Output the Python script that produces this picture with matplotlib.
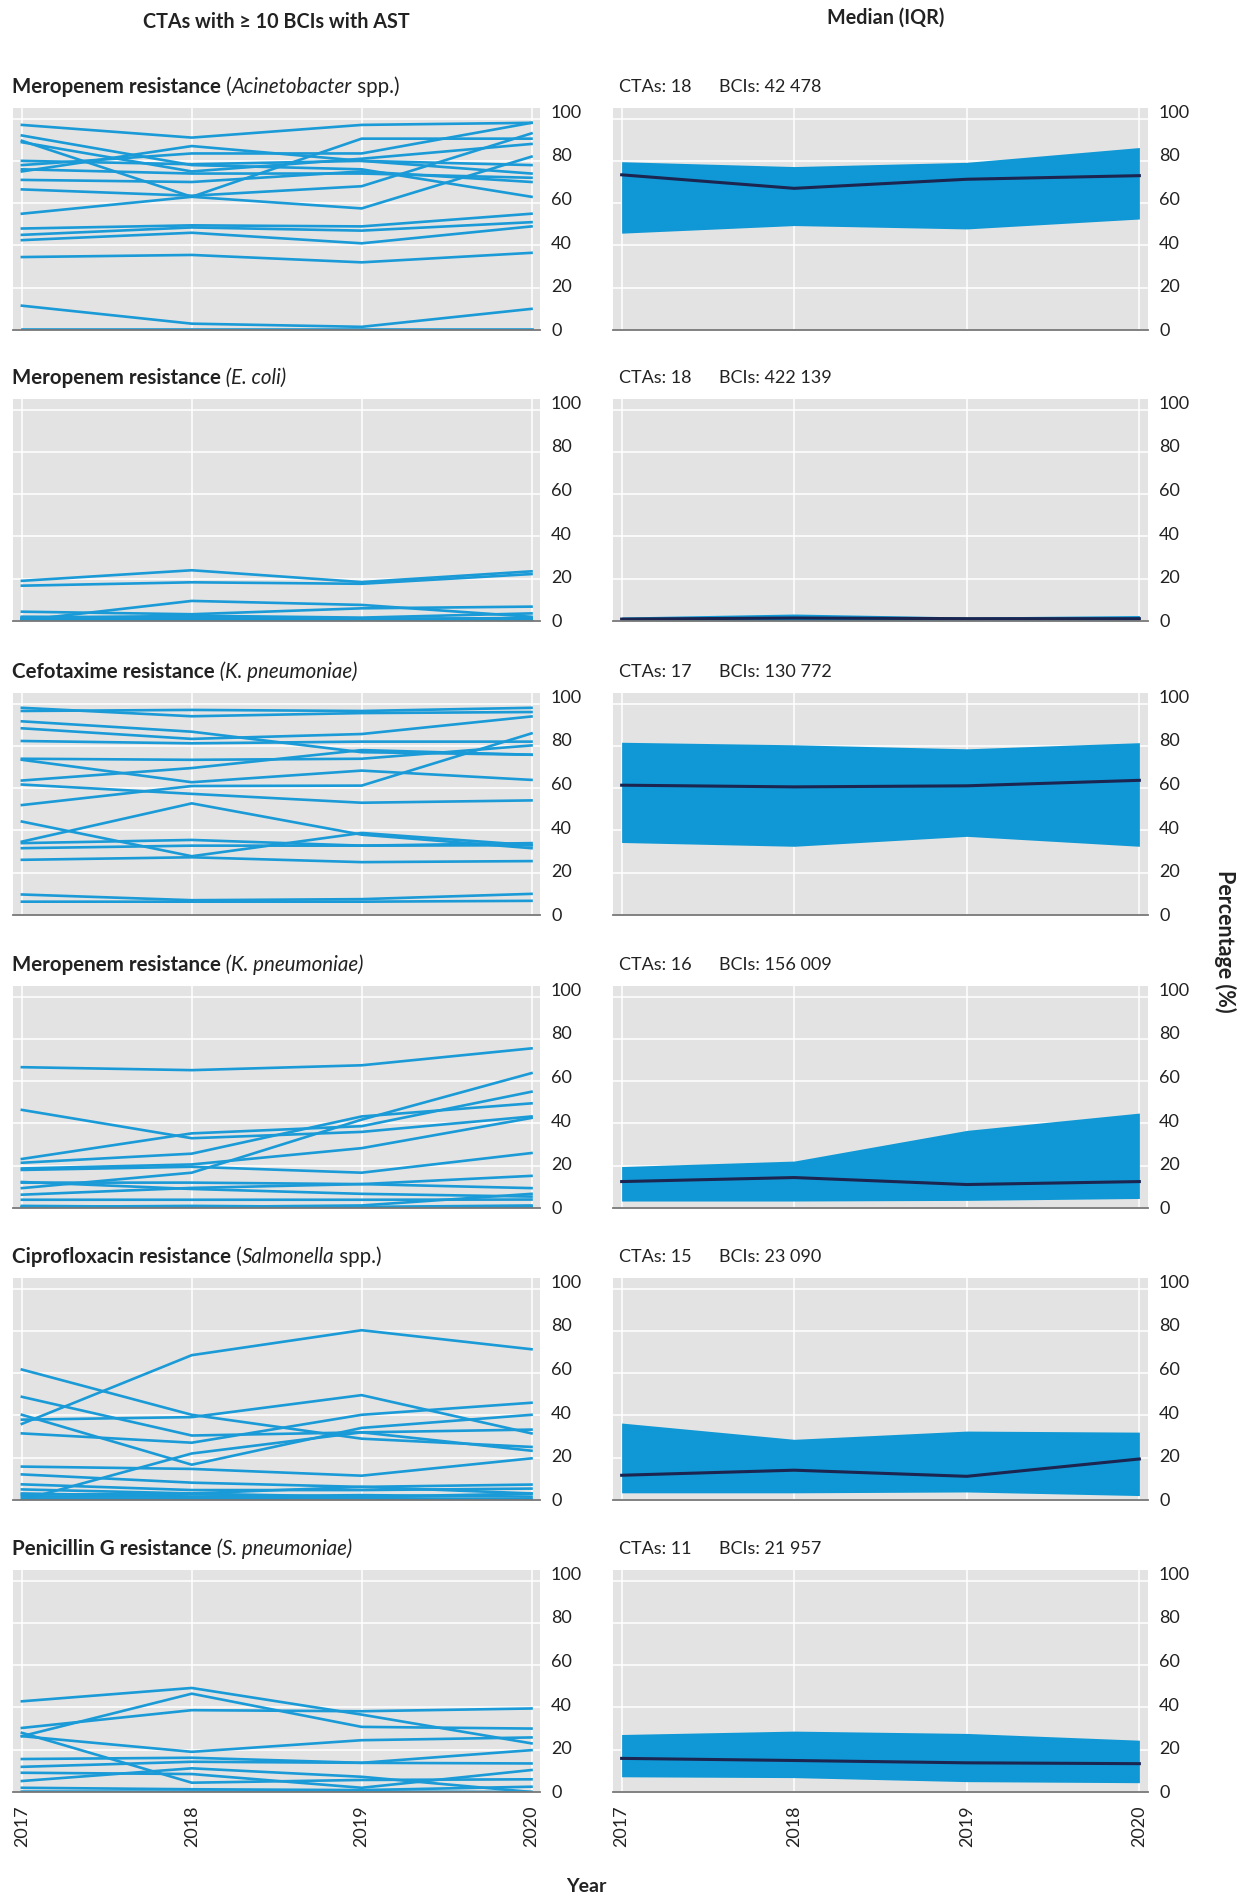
import matplotlib
matplotlib.use('Agg')
import matplotlib.pyplot as plt
from matplotlib.transforms import blended_transform_factory, offset_copy

plt.rcParams['font.family'] = ['Lato', 'DejaVu Sans']

years = [2017, 2018, 2019, 2020]
yticks = [0, 20, 40, 60, 80, 100]

# titles of each row: (text, weight, style) pieces
titles = [
    [('Meropenem resistance', 'bold', 'normal'), (' (', 'normal', 'normal'),
     ('Acinetobacter', 'normal', 'italic'), (' spp.)', 'normal', 'normal')],
    [('Meropenem resistance', 'bold', 'normal'), (' (E. coli)', 'normal', 'italic')],
    [('Cefotaxime resistance', 'bold', 'normal'), (' (K. pneumoniae)', 'normal', 'italic')],
    [('Meropenem resistance', 'bold', 'normal'), (' (K. pneumoniae)', 'normal', 'italic')],
    [('Ciprofloxacin resistance', 'bold', 'normal'), (' (', 'normal', 'normal'),
     ('Salmonella', 'normal', 'italic'), (' spp.)', 'normal', 'normal')],
    [('Penicillin G resistance', 'bold', 'normal'), (' (S. pneumoniae)', 'normal', 'italic')],
]
ctas = [18, 18, 17, 16, 15, 11]
bcis = ['42 478', '422 139', '130 772', '156 009', '23 090', '21 957']

# one line per CTA, values for 2017..2020 (%)
acin_lines = [
    [97, 91, 97, 98], [92, 78, 76, 63], [89.5, 63, 57.5, 82], [88.8, 75, 81, 88],
    [80, 78.4, 80, 78], [78, 83.5, 83.5, 98], [76, 74, 74, 72], [75, 87, 80, 74],
    [71, 70, 75, 70], [66.5, 63.5, 68, 93], [55, 63, 90.5, 90.5], [48, 49.5, 49, 55],
    [45, 48.5, 47, 51], [42.5, 46, 41, 49], [34.5, 35.5, 32, 36.5], [11.5, 3, 1.5, 10],
    [0.5, 0.5, 0.5, 0.5], [0, 0, 0, 0],
]
ecoli_lines = [
    [19, 24, 18.4, 23.5], [16.7, 18.3, 17.6, 22.2], [4.4, 3.2, 6, 6.8], [0.3, 9.5, 7.6, 2],
    [1.3, 2.5, 1.6, 3.6], [1.5, 1, 0.8, 1.2], [1, 0.5, 0.5, 0.8], [0.8, 1.2, 0.5, 0.3],
    [0.5, 0.3, 0.2, 0.5], [0.3, 0.2, 0.3, 0.2], [0.2, 0.5, 0.2, 0.1], [0, 0.2, 0, 0.2],
    [0, 0, 0.1, 0], [1.8, 1.5, 1.2, 1.0], [0.6, 0.8, 0.9, 0.4], [0.1, 0.1, 0.1, 0.1],
    [0, 0, 0, 0], [2.0, 1.8, 0.7, 1.5],
]
kpn_cef_lines = [
    [98, 94, 95.5, 96], [96.5, 97, 96.5, 98], [91.6, 86.7, 77, 75.8], [88.3, 83.3, 85.6, 93.9],
    [82.3, 81.2, 82, 82], [73.9, 73.4, 73.9, 80.2], [73.4, 62.8, 68.3, 63.9], [63.6, 69.5, 78, 75.8],
    [61.7, 57.3, 53.1, 54.2], [52, 61, 61.2, 85.9], [44.2, 27.8, 38.8, 33], [34.7, 52.8, 38, 31.6],
    [34, 35.5, 32.8, 34], [31.6, 32.8, 32.8, 33], [26.1, 27.3, 25, 25.5], [9.7, 7, 7.5, 10],
    [6.3, 6.3, 6.3, 6.7],
]
kpn_mero_lines = [
    [66.6, 65.2, 67.5, 75.5], [46.4, 33, 36, 43.3], [23.2, 35.3, 38.7, 55], [21.4, 25.7, 43.3, 49.5],
    [18.7, 20.6, 28.3, 42.6], [18, 19.5, 16.7, 26], [12, 12, 11.3, 15.2], [9.4, 16.7, 41.8, 63.8],
    [12.3, 9, 6.7, 5.4], [6.3, 9.5, 11.3, 9.4], [3.9, 3.9, 3.9, 4], [0.5, 0.5, 1.2, 6.7],
    [0.5, 1, 0.5, 1.2], [0.2, 0.3, 0.3, 0.5], [0, 0, 0, 0.5], [1, 0.5, 0.3, 0],
]
salm_lines = [
    [36, 68.5, 80.3, 71.3], [61.7, 40.3, 29, 25.1], [48.8, 30.5, 32, 33.3], [38, 39.2, 49.6, 31.5],
    [40.3, 16.7, 34.1, 40.3], [31.5, 27.1, 40.3, 46], [0, 22, 32, 23.3], [15.8, 14.7, 11.5, 19.7],
    [12.1, 8.2, 6.2, 7.3], [7.4, 4.7, 4.7, 5.4], [5, 3.1, 6.2, 3.1], [3.1, 1.6, 2.3, 1.6],
    [1.6, 1.6, 0.8, 0], [0.5, 0.5, 0.8, 0.5], [2.5, 3, 1.5, 3],
]
spn_lines = [
    [42.9, 49.2, 36.6, 23], [26.4, 46.5, 30.8, 30], [30.3, 38.7, 38.2, 39.5], [26.4, 19, 24.5, 25.8],
    [28, 4.4, 5.7, 6], [15.6, 16.2, 13.8, 13.5], [11.9, 14.3, 13.8, 19.8], [9.1, 8.5, 2, 10.4],
    [5.2, 11.2, 7.2, 0], [2, 1.3, 0.9, 2.5], [0.2, 0.2, 0.2, 0],
]
all_lines = [acin_lines, ecoli_lines, kpn_cef_lines, kpn_mero_lines, salm_lines, spn_lines]

# median and IQR per row
medians = [
    [73.4, 67, 71.3, 73], [0.9, 1.4, 1.1, 1.1], [61.4, 60.6, 61.1, 63.7],
    [12.5, 14.4, 11.1, 12.5], [11.7, 14.1, 11.2, 19.4], [15.9, 14.9, 13.8, 13.4],
]
q1 = [
    [45.8, 49.4, 47.8, 52.5], [0.2, 0.2, 0.2, 0.2], [34.3, 32.5, 37.2, 32.5],
    [3.3, 3.3, 3.6, 4.5], [3.4, 3.4, 3.8, 2.1], [7.2, 6.8, 4.9, 4.4],
]
q3 = [
    [79.6, 77.3, 79.3, 86.3], [1.9, 3.3, 1.9, 2.6], [81.7, 80.5, 78.6, 81.5],
    [19.6, 22.2, 36.7, 44.9], [36.4, 28.7, 32.6, 32.1], [27.2, 28.8, 27.7, 24.5],
]

W, H = 1254, 1899
fig = plt.figure(figsize=(W / 100, H / 100), dpi=100)
renderer = fig.canvas.get_renderer()

line_col = '#1a9ad6'
fill_col = '#0f98d5'
med_col = '#1b2550'
bg = '#e3e3e3'
txt = '#222222'

def px_ax(x0, top, w, h):
    return fig.add_axes([x0 / W, 1 - (top + h) / H, w / W, h / H])

def style_ax(ax, show_x):
    ax.set_facecolor(bg)
    ax.set_xlim(2016.95, 2020.05)
    ax.set_ylim(0, 105)
    ax.set_xticks(years)
    ax.set_yticks(yticks)
    ax.set_yticklabels([])
    ax.grid(True, color='white', lw=1.1)
    ax.set_axisbelow(True)
    for s in ['top', 'left', 'right']:
        ax.spines[s].set_visible(False)
    ax.spines['bottom'].set_color('#777777')
    ax.spines['bottom'].set_linewidth(1.3)
    ax.tick_params(axis='both', length=0)
    ax.tick_params(axis='x', pad=9, labelsize=13, labelcolor=txt)
    if show_x:
        ax.set_xticklabels([str(y) for y in years], rotation=90)
    else:
        ax.set_xticklabels([])
    # right side labels, spread a little wider than the grid like the original
    base = blended_transform_factory(ax.transAxes, ax.transData)
    for v in yticks:
        tr = offset_copy(base, fig=fig, x=11, y=v / 100 * 7, units='dots')
        ax.text(1, v, str(v), transform=tr, ha='left', va='center',
                fontsize=13, color=txt)

def rich_text(x, y, parts, size):
    for s, weight, style in parts:
        t = fig.text(x / W, 1 - y / H, s, fontsize=size, fontweight=weight,
                     fontstyle=style, color=txt, ha='left', va='center')
        x += t.get_window_extent(renderer).width

tops = [109, 400, 694, 987, 1279, 1571]
ph = 222

for i in range(6):
    show_x = (i == 5)
    ax = px_ax(13.4, tops[i], 526.6, ph)
    style_ax(ax, show_x)
    for vals in all_lines[i]:
        ax.plot(years, vals, color=line_col, lw=1.9, solid_joinstyle='miter')

    ax2 = px_ax(613, tops[i], 535, ph)
    style_ax(ax2, show_x)
    ax2.fill_between(years, q1[i], q3[i], color=fill_col, lw=0)
    ax2.plot(years, medians[i], color=med_col, lw=2.2)

    rich_text(12, tops[i] - 22, titles[i], 14.8)
    fig.text(619 / W, 1 - (tops[i] - 22) / H, f'CTAs: {ctas[i]}', fontsize=13,
             color=txt, ha='left', va='center')
    fig.text(719 / W, 1 - (tops[i] - 22) / H, f'BCIs: {bcis[i]}', fontsize=13,
             color=txt, ha='left', va='center')

fig.text(276 / W, 1 - 22 / H, 'CTAs with \u2265 10 BCIs with AST', fontsize=14.2,
         fontweight='bold', color=txt, ha='center', va='center')
fig.text(886 / W, 1 - 18 / H, 'Median (IQR)', fontsize=14.2,
         fontweight='bold', color=txt, ha='center', va='center')
fig.text(1225 / W, 1 - 941 / H, 'Percentage (%)', fontsize=15.5, fontweight='bold',
         color=txt, rotation=270, ha='center', va='center')
fig.text(586 / W, 1 - 1887 / H, 'Year', fontsize=14, fontweight='bold',
         color=txt, ha='center', va='center')

fig.savefig('out.png', dpi=100, facecolor='white')
